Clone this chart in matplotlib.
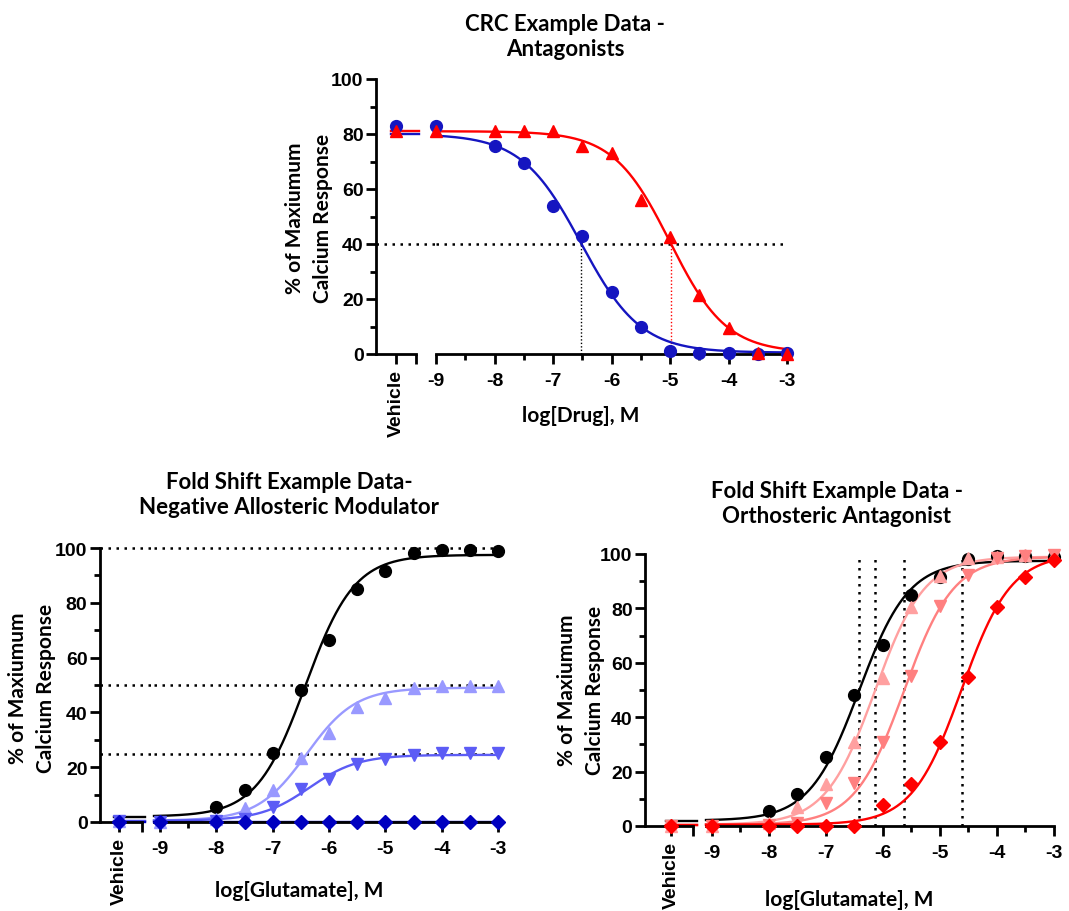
import numpy as np
import matplotlib
matplotlib.use("Agg")
import matplotlib.pyplot as plt

plt.rcParams['axes.unicode_minus'] = False
plt.rcParams['font.family'] = ['Lato', 'DejaVu Sans']

# ---- data ----
nan = np.nan
log_x = [-9, -8, -7.5, -7, -6.5, -6, -5.5, -5, -4.5, -4, -3.5, -3]

# CRC antagonists (top panel)
crc_blue_vehicle = 83
crc_blue = [83, 75.5, 69.5, 54, 43, 22.5, 10, 1, 0.5, 0.5, 0, 0.5]
crc_red_vehicle = 81
crc_red = [81, 81, 81, 81, 75.5, 73, 56, 42.5, 21.5, 9.5, 0.5, 0]
# fit params: top, bottom, logIC50, hill slope
crc_blue_fit = [80, 0.5, -6.52, -0.85]
crc_red_fit = [81, 0.5, -5.0, -0.9]
crc_ref_level = 40

# glutamate control (both bottom panels)
glu_ctrl_vehicle = nan
glu_ctrl = [nan, 5.6, 11.6, 25.3, 48.2, 66.4, 85.0, 91.5, 98.2, 99.3, 99.3, 99.0]
glu_ctrl_fit = [97.5, 2, -6.42, 1.0]

# negative allosteric modulator (bottom left)
nam_light_vehicle = 0.5
nam_light = [0, 1, 5.2, 11.7, 23.5, 32.6, 42.1, 45.4, 48.8, 49.6, 49.6, 49.5]
nam_mid_vehicle = 0.5
nam_mid = [0, 0.5, 1, 5.5, 12.2, 15.6, 21.1, 22.9, 24.5, 25.1, 25.1, 25.1]
nam_dark_vehicle = 0
nam_dark = [0, 0, 0, 0, 0, 0, 0, 0, 0, 0, 0, 0]
nam_light_fit = [49, 0.5, -6.4, 1.0]
nam_mid_fit = [24.5, 0.5, -6.35, 1.0]
nam_dark_fit = [0, 0, -6.0, 1.0]
nam_ref_levels = [100, 50, 25]

# orthosteric antagonist (bottom right)
orth_pink_vehicle = 0
orth_pink = [0, 1, 7, 15.3, 30.7, 54.4, 80.4, 91.8, 98.4, 99, 99.5, 99.5]
orth_salmon_vehicle = 0
orth_salmon = [0, 0.5, 1, 8.6, 15.7, 30.9, 55.2, 81, 92.3, 98.4, 99.1, 99.6]
orth_red_vehicle = 0
orth_red = [0, 0, 0, 0, 0, 7.7, 15.3, 30.9, 54.6, 80.6, 91.4, 97.9]
orth_pink_fit = [99, 0.5, -6.14, 1.0]
orth_salmon_fit = [99, 0.5, -5.63, 1.0]
orth_red_fit = [100, 0.5, -4.62, 1.0]

W, H = 1069, 912
fig = plt.figure(figsize=(W / 100, H / 100), dpi=100)

TICK_FONT = dict(family='Liberation Sans', weight='bold', size=14)
TITLE_FONT = dict(family='Lato', weight='bold', size=16)
LABEL_FONT = dict(family='Lato', weight='bold', size=15)
DOTS = (0, (1, 2.2))
YLABEL = '% of Maxiumum\nCalcium Response'


def box(x0, y0, x1, y1):
    return [x0 / W, 1 - y1 / H, (x1 - x0) / W, (y1 - y0) / H]


def hill(x, top, bottom, logc, n):
    return bottom + (top - bottom) / (1 + 10 ** ((logc - x) * n))


def ftext(px, py, s, font, **kw):
    return fig.text(px / W, 1 - py / H, s, ha='center', va='center', fontdict=font,
                    multialignment='center', **kw)


def panel(xv, xm, ytop, ybot, vlim, mlim):
    ax_v = fig.add_axes(box(xv[0], ytop, xv[1], ybot))
    ax_m = fig.add_axes(box(xm[0], ytop, xm[1], ybot), sharey=ax_v)
    for ax in (ax_v, ax_m):
        ax.spines['top'].set_visible(False)
        ax.spines['right'].set_visible(False)
        ax.spines['bottom'].set_linewidth(2)
        ax.spines['left'].set_linewidth(2)
        ax.set_facecolor('none')
        ax.tick_params(which='major', direction='out', length=7, width=2)
        ax.tick_params(which='minor', direction='out', length=4.5, width=2)
    ax_m.spines['left'].set_visible(False)
    ax_m.tick_params(axis='y', which='both', left=False, labelleft=False)

    ax_v.set_ylim(0, 100)
    ax_v.set_yticks(np.arange(0, 101, 20))
    ax_v.set_yticks(np.arange(10, 100, 20), minor=True)
    ax_v.set_yticklabels([str(v) for v in range(0, 101, 20)], fontdict=TICK_FONT)
    ax_v.tick_params(axis='y', pad=2)
    ax_v.set_xlim(*vlim)
    ax_v.set_xticks([0, vlim[1]])
    ax_v.set_xticklabels(['Vehicle', ''], fontdict=TICK_FONT, rotation=90)

    ax_m.set_xlim(*mlim)
    ax_m.set_xticks(np.arange(-9, -2, 1))
    ax_m.set_xticks(np.arange(-8.5, -3, 1), minor=True)
    ax_m.set_xticklabels([str(v) for v in range(-9, -2)], fontdict=TICK_FONT)
    ax_m.tick_params(axis='x', pad=6)
    ax_v.tick_params(axis='x', pad=4)
    gap = (xm[0] - xv[1]) / (xv[1] - xv[0])
    return ax_v, ax_m, gap


def series(ax_v, ax_m, veh, ys, fit, color, marker, ms):
    vl = ax_v.get_xlim()
    xs = np.linspace(ax_m.get_xlim()[0], -3, 400)
    ax_m.plot(xs, hill(xs, *fit), color=color, lw=1.7, zorder=2, clip_on=False)
    x0 = (-5 - vl[0]) / (vl[1] - vl[0])
    ax_v.axhline(hill(-12.0, *fit), xmin=x0, xmax=1.08, color=color, lw=1.7,
                 zorder=2, clip_on=False)
    ax_m.plot(log_x, ys, ls='none', marker=marker, ms=ms, color=color,
              zorder=3, clip_on=False)
    ax_v.plot([0], [veh], ls='none', marker=marker, ms=ms, color=color,
              zorder=3, clip_on=False)


def hline(ax_v, ax_m, gap, level, lw=1.8):
    ax_v.axhline(level, xmin=0, xmax=1 + gap, color='black', lw=lw, ls=DOTS,
                 zorder=1, clip_on=False)
    ax_m.axhline(level, color='black', lw=lw, ls=DOTS, zorder=1, clip_on=False)


# ---- top panel ----
av, am, g = panel((376, 416), (436, 787), 80, 355, (-20, 20), (-9, -3))
hline(av, am, g, crc_ref_level)
for fit, c in [(crc_blue_fit, 'black'), (crc_red_fit, '#FF0000')]:
    top, bottom, logc, n = fit
    x40 = logc + np.log10((top - bottom) / (crc_ref_level - bottom) - 1) / (-n)
    am.vlines(x40, 0, crc_ref_level, colors=c, lw=1, linestyles=(0, (1, 1.5)), zorder=1)
series(av, am, crc_blue_vehicle, crc_blue, crc_blue_fit, '#1515C0', 'o', 8.5)
series(av, am, crc_red_vehicle, crc_red, crc_red_fit, '#FF0000', '^', 8.5)
ftext(309, 218, YLABEL, LABEL_FONT, rotation=90, linespacing=1.55)
ftext(565, 37, 'CRC Example Data -\nAntagonists', TITLE_FONT, linespacing=1.2)
ftext(581, 416, 'log[Drug], M', LABEL_FONT)

# ---- bottom left: NAM ----
av, am, g = panel((100, 142), (154, 498), 549, 823, (-19, 23), (-9.107, -3))
for lev in nam_ref_levels:
    hline(av, am, g, lev)
series(av, am, glu_ctrl_vehicle, glu_ctrl, glu_ctrl_fit, 'black', 'o', 8.5)
series(av, am, nam_light_vehicle, nam_light, nam_light_fit, '#9999FF', '^', 8.5)
series(av, am, nam_mid_vehicle, nam_mid, nam_mid_fit, '#5C5CF5', 'v', 8.5)
series(av, am, nam_dark_vehicle, nam_dark, nam_dark_fit, '#0000C0', 'D', 7.5)
ftext(32, 688, YLABEL, LABEL_FONT, rotation=90, linespacing=1.55)
ftext(289, 495, 'Fold Shift Example Data-\nNegative Allosteric Modulator', TITLE_FONT,
      linespacing=1.2)
ftext(299, 891, 'log[Glutamate], M', LABEL_FONT)

# ---- bottom right: orthosteric ----
av, am, g = panel((645, 693), (706, 1054), 555, 827, (-26, 22), (-9.105, -3))
am.vlines([glu_ctrl_fit[2], orth_pink_fit[2], orth_salmon_fit[2], orth_red_fit[2]],
          0, 100, colors='black', lw=1.8, linestyles=DOTS, zorder=1)
series(av, am, glu_ctrl_vehicle, glu_ctrl, glu_ctrl_fit, 'black', 'o', 8.5)
series(av, am, orth_pink_vehicle, orth_pink, orth_pink_fit, '#FFA0A0', '^', 8.5)
series(av, am, orth_salmon_vehicle, orth_salmon, orth_salmon_fit, '#FF8080', 'v', 8.5)
series(av, am, orth_red_vehicle, orth_red, orth_red_fit, '#FF0000', 'D', 7.5)
ftext(581, 690, YLABEL, LABEL_FONT, rotation=90, linespacing=1.55)
ftext(837, 504, 'Fold Shift Example Data -\nOrthosteric Antagonist', TITLE_FONT,
      linespacing=1.2)
ftext(849, 900, 'log[Glutamate], M', LABEL_FONT)

fig.savefig('out.png', dpi=100)
